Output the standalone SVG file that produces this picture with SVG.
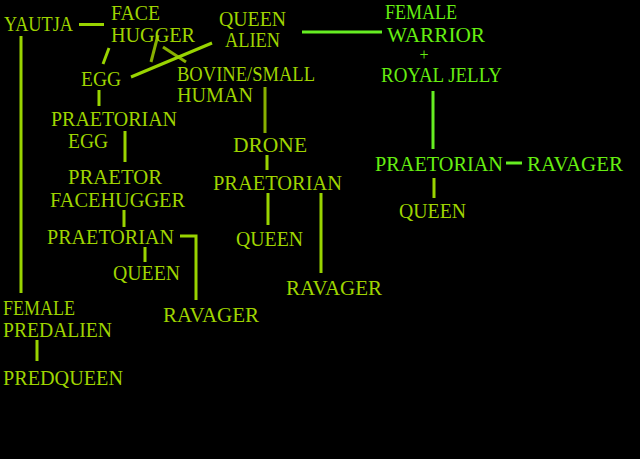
<svg xmlns="http://www.w3.org/2000/svg" width="640" height="459" viewBox="0 0 640 459">
<style>
text{font-family:"Liberation Serif","DejaVu Serif",serif;font-size:20.5px;fill:#9fd400}
.g{fill:#66ee11}
.p{font-size:16px}
line,polyline{stroke:#99d400;stroke-width:3;fill:none}
.lg{stroke:#66ee22}
.lo{stroke:#88b000}
</style>
<rect width="640" height="459" fill="#000"/>
<g id="connectors">
<line x1="79" y1="24.5" x2="104" y2="24.5"/>
<line x1="21" y1="36" x2="21" y2="293"/>
<line x1="109" y1="48" x2="103" y2="64"/>
<line class="lo" x1="158" y1="35" x2="151" y2="62"/>
<line class="lo" x1="163" y1="47" x2="186" y2="62"/>
<line x1="212" y1="43" x2="131" y2="77"/>
<line class="lg" x1="302" y1="32" x2="382" y2="32"/>
<line x1="99" y1="90" x2="99" y2="106"/>
<line x1="125" y1="131" x2="125" y2="162"/>
<line class="lo" x1="265" y1="87" x2="265" y2="133"/>
<line x1="267" y1="155" x2="267" y2="170"/>
<line x1="268" y1="193" x2="268" y2="225"/>
<line x1="321" y1="193" x2="321" y2="273"/>
<line x1="124" y1="210" x2="124" y2="227"/>
<line x1="145" y1="247" x2="145" y2="262"/>
<polyline points="180,236 196,236 196,300"/>
<line x1="37" y1="340" x2="37" y2="361"/>
<line class="lg" x1="433" y1="91" x2="433" y2="149"/>
<line class="lg" x1="506" y1="163" x2="522" y2="163"/>
<line x1="434" y1="178" x2="434" y2="198"/>
</g>
<g id="yautja"><text x="4" y="31" textLength="69" lengthAdjust="spacingAndGlyphs">YAUTJA</text></g>
<g id="facehugger"><text x="111" y="19.5" textLength="49" lengthAdjust="spacingAndGlyphs">FACE</text><text x="111" y="42" textLength="84" lengthAdjust="spacingAndGlyphs">HUGGER</text></g>
<g id="queen-alien"><text x="219" y="26" textLength="67" lengthAdjust="spacingAndGlyphs">QUEEN</text><text x="225" y="47" textLength="55" lengthAdjust="spacingAndGlyphs">ALIEN</text></g>
<g id="egg"><text x="81" y="86" textLength="40" lengthAdjust="spacingAndGlyphs">EGG</text></g>
<g id="bovine"><text x="177" y="81" textLength="138" lengthAdjust="spacingAndGlyphs">BOVINE/SMALL</text><text x="177" y="102" textLength="76" lengthAdjust="spacingAndGlyphs">HUMAN</text></g>
<g id="praetorian-egg"><text x="51" y="126" textLength="126" lengthAdjust="spacingAndGlyphs">PRAETORIAN</text><text x="68" y="148" textLength="40" lengthAdjust="spacingAndGlyphs">EGG</text></g>
<g id="drone"><text x="233" y="152" textLength="74" lengthAdjust="spacingAndGlyphs">DRONE</text></g>
<g id="praetor-facehugger"><text x="68" y="184" textLength="94" lengthAdjust="spacingAndGlyphs">PRAETOR</text><text x="50" y="207" textLength="135" lengthAdjust="spacingAndGlyphs">FACEHUGGER</text></g>
<g id="praetorian-left"><text x="47" y="244" textLength="127" lengthAdjust="spacingAndGlyphs">PRAETORIAN</text></g>
<g id="queen-left"><text x="113" y="280" textLength="67" lengthAdjust="spacingAndGlyphs">QUEEN</text></g>
<g id="ravager-left"><text x="163" y="322" textLength="96" lengthAdjust="spacingAndGlyphs">RAVAGER</text></g>
<g id="praetorian-mid"><text x="213" y="190" textLength="129" lengthAdjust="spacingAndGlyphs">PRAETORIAN</text></g>
<g id="queen-mid"><text x="236" y="246" textLength="67" lengthAdjust="spacingAndGlyphs">QUEEN</text></g>
<g id="ravager-mid"><text x="286" y="295" textLength="96" lengthAdjust="spacingAndGlyphs">RAVAGER</text></g>
<g id="female-predalien"><text x="3" y="315" textLength="72" lengthAdjust="spacingAndGlyphs">FEMALE</text><text x="3" y="337" textLength="109" lengthAdjust="spacingAndGlyphs">PREDALIEN</text></g>
<g id="predqueen"><text x="3" y="385" textLength="120" lengthAdjust="spacingAndGlyphs">PREDQUEEN</text></g>
<g id="female-warrior"><text class="g" x="385" y="19" textLength="72" lengthAdjust="spacingAndGlyphs">FEMALE</text><text class="g" x="387" y="42" textLength="98" lengthAdjust="spacingAndGlyphs">WARRIOR</text><text class="g p" x="424" y="60" text-anchor="middle">+</text><text class="g" x="381" y="82" textLength="121" lengthAdjust="spacingAndGlyphs">ROYAL JELLY</text></g>
<g id="praetorian-right"><text class="g" x="375" y="171" textLength="128" lengthAdjust="spacingAndGlyphs">PRAETORIAN</text></g>
<g id="ravager-right"><text class="g" x="527" y="171" textLength="96" lengthAdjust="spacingAndGlyphs">RAVAGER</text></g>
<g id="queen-right"><text x="399" y="218" textLength="67" lengthAdjust="spacingAndGlyphs">QUEEN</text></g>
</svg>
